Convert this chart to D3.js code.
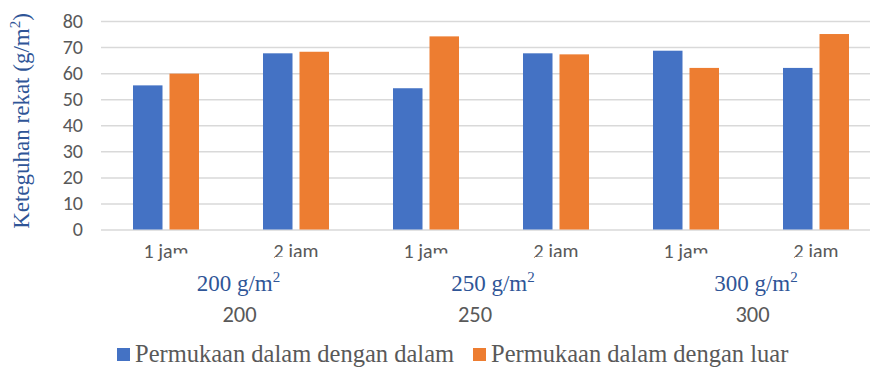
<!DOCTYPE html>
<html>
<head>
<meta charset="utf-8">
<script src="https://cdn.jsdelivr.net/npm/d3@7"></script>
<style>
  html, body { margin: 0; padding: 0; background: #fff; }
  svg { display: block; }
  .serif { font-family: "Liberation Serif", "Times New Roman", Tinos, serif; }
  .sans { font-family: Carlito, Calibri, "Open Sans", "Liberation Sans", sans-serif; }
</style>
</head>
<body>
<svg id="chart" width="870" height="367"></svg>
<script>
// Bonding strength by glue spread and pressing time
const groups = ["200", "250", "300"];
const groupUnits = ["200 g/m", "250 g/m", "300 g/m"];
const sessions = ["1 jam", "2 jam"];
const seriesNames = ["Permukaan dalam dengan dalam", "Permukaan dalam dengan luar"];
const dalamDalam = [55.3, 67.6, 54.2, 67.6, 68.6, 62.0];
const dalamLuar  = [59.8, 68.2, 74.1, 67.2, 62.0, 75.0];
const yTicks = [0, 10, 20, 30, 40, 50, 60, 70, 80];

const colors = ["#4472C4", "#ED7D31"];
const gray = "#595959";
const titleBlue = "#2F5597";

const svg = d3.select("#chart");

// category slots: each group split into two pressing times
const categories = [];
groups.forEach(g => sessions.forEach(s => categories.push(g + "|" + s)));
const rows = categories.map((c, i) => ({ key: c, values: [dalamDalam[i], dalamLuar[i]] }));

const plotLeft = 101, plotRight = 881, plotTop = 21, plotBottom = 229.5;

const x0 = d3.scaleBand().domain(categories).range([plotLeft, plotRight]).padding(0);
const x1 = d3.scaleBand().domain([0, 1])
  .range([x0.bandwidth() / 2 - 33, x0.bandwidth() / 2 + 33])
  .paddingInner(14 / 73).paddingOuter(0);
const y = d3.scaleLinear().domain([0, 80]).range([plotBottom, plotTop]);

// gridlines and value labels
const yAxis = svg.append("g")
  .attr("transform", `translate(${plotLeft},0)`)
  .call(d3.axisLeft(y).tickValues(yTicks).tickSize(-(plotRight - plotLeft)).tickPadding(18));
yAxis.select(".domain").remove();
yAxis.attr("font-family", null).attr("font-size", null);
yAxis.selectAll(".tick line").attr("stroke", "#d9d9d9").attr("stroke-width", 1.5);
yAxis.selectAll(".tick text")
  .attr("class", "sans").attr("fill", gray).style("font-size", "20px");

// bars
const cat = svg.append("g").selectAll("g").data(rows).join("g")
  .attr("transform", d => `translate(${x0(d.key)},0)`);
cat.selectAll("rect").data(d => d.values.map((v, i) => ({ v, i }))).join("rect")
  .attr("x", d => x1(d.i))
  .attr("width", x1.bandwidth())
  .attr("y", d => y(d.v))
  .attr("height", d => y(0) - y(d.v))
  .attr("fill", d => colors[d.i]);

// pressing-time labels
const xAxis = svg.append("g")
  .attr("transform", `translate(0,${plotBottom})`)
  .call(d3.axisBottom(x0).tickSize(0).tickFormat(d => d.split("|")[1]));
xAxis.select(".domain").remove();
xAxis.attr("font-family", null).attr("font-size", null);
xAxis.selectAll(".tick text")
  .attr("dy", null).attr("y", 28.5)
  .attr("class", "sans").attr("fill", gray).style("font-size", "20px");

const groupCenter = g => (x0(g + "|" + sessions[0]) + x0(g + "|" + sessions[1]) + x0.bandwidth()) / 2;

// white label boxes sitting over the lower part of the time labels
const coverParts = [
  { dx: -58.5, w: 30, top: 253.5 },
  { dx: 44, w: 52, top: 257 }
];
svg.append("g").selectAll("g").data(groups).join("g")
  .selectAll("rect").data(g => coverParts.map(p => ({ g, p }))).join("rect")
  .attr("x", d => groupCenter(d.g) + d.p.dx)
  .attr("y", d => d.p.top)
  .attr("width", d => d.p.w)
  .attr("height", d => 266 - d.p.top)
  .attr("fill", "#fff");

// glue spread labels (blue, with superscript)
const unitNudge = [7.5, 2, 5];
const unitText = svg.append("g").selectAll("text").data(groups).join("text")
  .attr("class", "serif")
  .attr("x", (g, i) => groupCenter(g) + unitNudge[i])
  .attr("y", 291)
  .attr("text-anchor", "middle")
  .attr("fill", titleBlue)
  .style("font-size", "23px");
unitText.append("tspan").text((g, i) => groupUnits[i]);
unitText.append("tspan").attr("dy", -9).style("font-size", "15px").text("2");

// outer category labels
const groupNudge = [8.5, -16, 1.5];
svg.append("g").selectAll("text").data(groups).join("text")
  .attr("class", "sans")
  .attr("x", (g, i) => groupCenter(g) + groupNudge[i])
  .attr("y", 322)
  .attr("text-anchor", "middle")
  .attr("fill", gray)
  .style("font-size", "22.5px")
  .text(g => g);

// y-axis title
const yTitle = svg.append("text")
  .attr("class", "serif")
  .attr("transform", "translate(29,121) rotate(-90)")
  .attr("text-anchor", "middle")
  .attr("fill", titleBlue)
  .style("font-size", "23px");
yTitle.append("tspan").text("Keteguhan rekat (g/m");
yTitle.append("tspan").attr("dy", -9).style("font-size", "15px").text("2");
yTitle.append("tspan").attr("dy", 9).text(")");

// legend
const legendX = [117, 473];
const legend = svg.append("g").selectAll("g").data(seriesNames).join("g")
  .attr("transform", (d, i) => `translate(${legendX[i]},0)`);
legend.append("rect")
  .attr("x", 0).attr("y", 348).attr("width", 13).attr("height", 13)
  .attr("fill", (d, i) => colors[i]);
legend.append("text")
  .attr("class", "serif")
  .attr("x", 18).attr("y", 362)
  .attr("fill", gray)
  .style("font-size", "24.5px")
  .text(d => d);
</script>
</body>
</html>
